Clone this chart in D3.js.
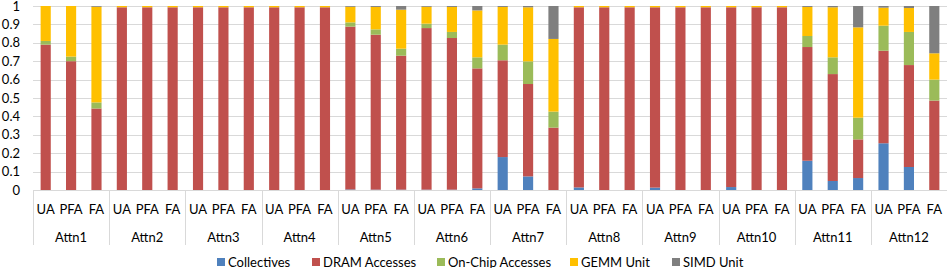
<!DOCTYPE html>
<html>
<head>
<meta charset="utf-8">
<script src="https://cdn.jsdelivr.net/npm/d3@7"></script>
<style>
  body { margin: 0; background: #fff; }
  text { font-family: Lato, "Open Sans", sans-serif; fill: #000; }
</style>
</head>
<body>
<div id="chart"></div>
<script>
const groups = ['Attn1', 'Attn2', 'Attn3', 'Attn4', 'Attn5', 'Attn6', 'Attn7', 'Attn8', 'Attn9', 'Attn10', 'Attn11', 'Attn12'];
const variants = ['UA', 'PFA', 'FA'];
const seriesNames = ['Collectives', 'DRAM Accesses', 'On-Chip Accesses', 'GEMM Unit', 'SIMD Unit'];
const colors = ['#4F81BD', '#C0504D', '#9BBB59', '#FFC000', '#7F7F7F'];
const yTicks = [0, 0.1, 0.2, 0.3, 0.4, 0.5, 0.6, 0.7, 0.8, 0.9, 1];

// one value per bar, order: Attn1 UA, PFA, FA, Attn2 UA, ...
const collectives = [
    0, 0, 0,   0, 0, 0,   0, 0, 0,   0, 0, 0,
    0.003, 0.002, 0.002,   0.002, 0.002, 0.009,   0.179, 0.074, 0,   0.014, 0, 0,
    0.013, 0, 0,   0.016, 0, 0,   0.159, 0.049, 0.065,   0.254, 0.125, 0
];
const dram = [
    0.79, 0.70, 0.443,   0.993, 0.993, 0.993,   0.993, 0.993, 0.993,   0.993, 0.993, 0.993,
    0.885, 0.842, 0.728,   0.878, 0.824, 0.652,   0.526, 0.502, 0.339,   0.979, 0.993, 0.993,
    0.98, 0.993, 0.993,   0.977, 0.993, 0.993,   0.618, 0.581, 0.21,   0.503, 0.554, 0.486
];
const onChip = [
    0.02, 0.025, 0.033,   0, 0, 0,   0, 0, 0,   0, 0, 0,
    0.023, 0.029, 0.038,   0.024, 0.033, 0.06,   0.085, 0.123, 0.087,   0, 0, 0,
    0, 0, 0,   0, 0, 0,   0.06, 0.091, 0.118,   0.136, 0.18, 0.114
];
const gemm = [
    0.19, 0.275, 0.52,   0.007, 0.007, 0.007,   0.007, 0.007, 0.007,   0.007, 0.007, 0.007,
    0.085, 0.122, 0.212,   0.092, 0.136, 0.255,   0.205, 0.294, 0.395,   0.007, 0.007, 0.007,
    0.007, 0.007, 0.007,   0.007, 0.007, 0.007,   0.158, 0.272, 0.491,   0.098, 0.13, 0.143
];
const simd = [
    0, 0, 0.004,   0, 0, 0,   0, 0, 0,   0, 0, 0,
    0.004, 0.005, 0.02,   0.004, 0.005, 0.024,   0.005, 0.007, 0.179,   0, 0, 0,
    0, 0, 0,   0, 0, 0,   0.005, 0.007, 0.116,   0.009, 0.011, 0.257
];

const svgWidth = 947, svgHeight = 268;
const margin = { left: 33, right: 0, top: 6, bottom: 78 };
const height = svgHeight - margin.top - margin.bottom;

function translate(x, y) {
    return 'translate(' + x + ',' + y + ')';
}

const rows = [];
groups.forEach((g, gi) => {
    variants.forEach((v, vi) => {
        const i = gi * 3 + vi;
        rows.push({
            key: g + '|' + v, group: g, variant: v,
            'Collectives': collectives[i],
            'DRAM Accesses': dram[i],
            'On-Chip Accesses': onChip[i],
            'GEMM Unit': gemm[i],
            'SIMD Unit': simd[i]
        });
    });
});

const svg = d3.select('#chart').append('svg')
    .attr('width', svgWidth)
    .attr('height', svgHeight);

const xGroup = d3.scaleBand().domain(groups).range([margin.left, svgWidth - margin.right]);
const xBar = d3.scaleBand().domain(variants).range([0, xGroup.bandwidth()]).paddingInner(0.6).paddingOuter(0.3);
const yScale = d3.scaleLinear().domain([0, 1]).range([margin.top + height, margin.top]);

// gridlines
svg.append('g').selectAll('line')
    .data(yTicks.filter(d => d > 0))
    .enter().append('line')
    .attr('x1', margin.left).attr('x2', svgWidth - margin.right)
    .attr('y1', d => Math.round(yScale(d)) + 0.5)
    .attr('y2', d => Math.round(yScale(d)) + 0.5)
    .style('stroke', '#D9D9D9').style('stroke-width', 1);

// y labels
svg.append('g').selectAll('text')
    .data(yTicks)
    .enter().append('text')
    .attr('x', 20)
    .attr('y', d => yScale(d))
    .attr('dy', '0.35em')
    .attr('text-anchor', 'end')
    .style('font-size', '13px')
    .text(d => d3.format('~g')(d));

// bars
const stack = d3.stack().keys(seriesNames);
const stacked = stack(rows);

svg.append('g').selectAll('g')
    .data(stacked)
    .enter().append('g')
    .style('fill', (d, i) => colors[i])
    .selectAll('rect')
    .data(d => d)
    .enter().append('rect')
    .attr('x', d => xGroup(d.data.group) + xBar(d.data.variant))
    .attr('width', xBar.bandwidth())
    .attr('y', d => yScale(d[1]))
    .attr('height', d => Math.max(0, yScale(d[0]) - yScale(d[1])));

// category axis
const axisY = Math.round(yScale(0)) + 0.5;
svg.append('line')
    .attr('x1', margin.left).attr('x2', svgWidth - margin.right)
    .attr('y1', axisY).attr('y2', axisY)
    .style('stroke', '#D9D9D9');

const sepX = groups.map(g => xGroup(g)).concat([svgWidth - margin.right - 0.5]);
svg.append('g').selectAll('line')
    .data(sepX)
    .enter().append('line')
    .attr('x1', d => Math.round(d) + 0.5).attr('x2', d => Math.round(d) + 0.5)
    .attr('y1', axisY).attr('y2', 245)
    .style('stroke', '#D9D9D9');

svg.append('g').selectAll('text')
    .data(rows)
    .enter().append('text')
    .attr('x', d => xGroup(d.group) + xBar(d.variant) + xBar.bandwidth() / 2)
    .attr('y', 209)
    .attr('dy', '0.35em')
    .attr('text-anchor', 'middle')
    .style('font-size', '13px')
    .text(d => d.variant);

svg.append('g').selectAll('text')
    .data(groups)
    .enter().append('text')
    .attr('x', d => xGroup(d) + xGroup.bandwidth() / 2)
    .attr('y', 237)
    .attr('dy', '0.35em')
    .attr('text-anchor', 'middle')
    .style('font-size', '13px')
    .text(d => d);

// legend
const legendX = [217, 312, 437, 570, 672];
const legend = svg.append('g').selectAll('g')
    .data(seriesNames)
    .enter().append('g')
    .attr('transform', (d, i) => translate(legendX[i], 262));
legend.append('rect')
    .attr('x', 0).attr('y', -4)
    .attr('width', 8).attr('height', 8)
    .style('fill', (d, i) => colors[i]);
legend.append('text')
    .attr('x', 11)
    .attr('y', 0)
    .attr('dy', '0.35em')
    .style('font-size', '13px')
    .text(d => d);
</script>
</body>
</html>
